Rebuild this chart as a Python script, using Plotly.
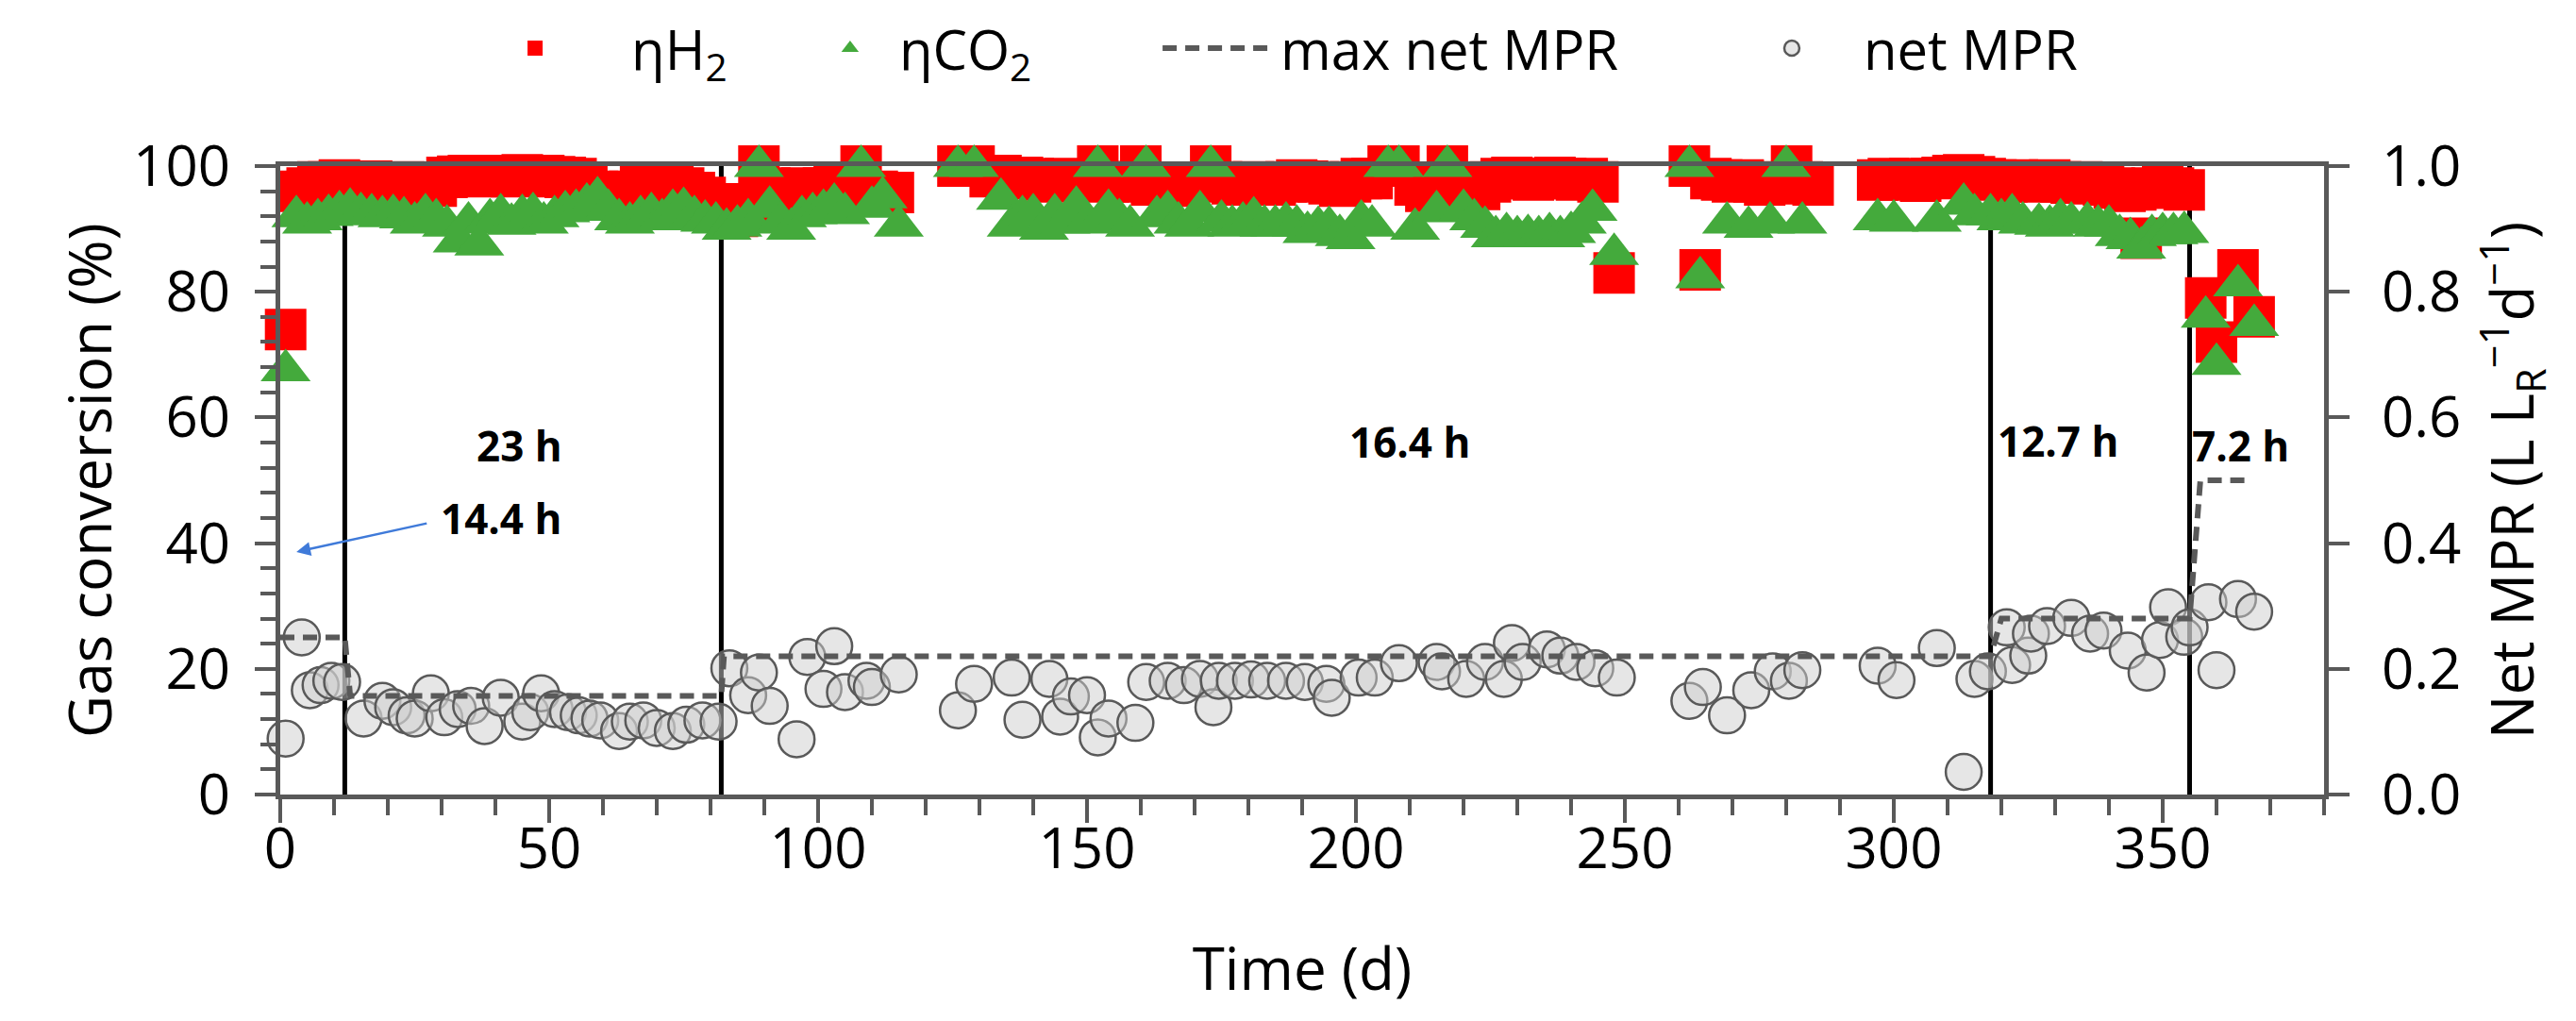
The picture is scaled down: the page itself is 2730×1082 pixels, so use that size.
import plotly.graph_objects as go

# ---------------- data ----------------
h2_days = [1, 3, 5, 7, 9, 11, 13, 15, 17, 19, 21, 23, 25, 27, 29,
           31, 33, 35, 37, 39, 41, 43, 45, 47, 49, 51, 53, 55,
           57, 59, 61, 63, 65, 67, 69, 71, 73, 75, 77, 79, 81, 83, 85, 87,
           89, 91, 93, 95, 97, 99, 101, 103, 105, 108, 111, 114, 126, 129,
           132, 134, 136, 138, 140, 142, 144, 146, 148, 152, 154, 156,
           160, 162, 164, 166, 168,
           173, 175, 177, 179, 181, 183, 185, 187, 189, 191, 193, 195, 197, 199, 201, 203,
           206, 208, 211, 213, 215,
           217, 219, 221, 223, 225, 227, 229, 231, 233, 235, 237, 239, 241, 243, 245,
           248, 262, 264, 266, 268, 270, 272, 274, 276, 278, 281, 283, 285,
           297, 299, 301, 303, 305, 307, 309, 311, 313, 315, 317, 319, 321, 323, 325,
           327, 329, 331, 333, 335, 337, 339, 341, 343, 345,
           346, 348, 350, 352, 354, 358, 360, 364, 367]
h2_vals = [74, 96, 96.5, 97.5, 97.5, 97.8, 97.5, 97.3, 97.6, 97.4, 97.2, 97.5, 97.3, 97.0, 96.8,
           98.2, 98.4, 98.5, 98.3, 98.4, 98.5, 98.3, 98.6, 98.4, 98.5, 98.3, 98.2, 98.0,
           97.0, 96.0, 95.5, 95.8, 96.0, 96.8, 97.0, 97.2, 96.8, 96.5, 95.8, 95.0, 94.0, 93.5, 92.0, 94.0,
           100, 96.5, 96.2, 96.0, 96.5, 96.2, 96.5, 97.0, 96.8, 100, 96.0, 95.8, 100, 100,
           98.3, 98.5, 98.0, 98.2, 98.0, 97.8, 97.5, 98.0, 97.8, 100, 97.5, 97.5,
           100, 97.0, 97.0, 97.2, 96.8,
           100, 97.5, 97.2, 97.0, 97.5, 97.3, 97.0, 97.5, 97.8, 97.6, 97.5, 97.2, 96.8, 97.5, 98.0, 98.0,
           100, 100, 97.0, 96.0, 96.5,
           100, 97.0, 96.5, 96.3, 97.5, 98.0, 98.2, 98.0, 97.8, 98.0, 98.2, 98.0, 97.8, 98.0, 97.5,
           83, 100, 83.5, 98.0, 97.8, 97.5, 97.8, 97.5, 97.0, 97.2, 100, 97.5, 97.0,
           97.8, 98.0, 97.8, 98.0, 97.6, 98.0, 98.2, 98.5, 98.6, 98.3, 98.0, 97.8, 97.5, 97.8, 97.6,
           97.5, 97.8, 97.5, 97.3, 97.5, 97.2, 97.0, 96.5, 96.0, 96.2,
           88.5, 96.5, 96.8, 96.5, 96.2, 79, 72, 83.5, 76]

co2_days = [1, 3, 5, 7, 9, 11, 13, 15, 17, 19, 21, 23, 25, 27, 29, 31, 33, 35, 37, 39,
            41, 43, 45, 47, 49, 51, 53, 55, 57, 59, 61, 63, 65, 67, 69, 71, 73, 75, 77, 79,
            81, 83, 85, 87,
            89, 91, 93, 95, 97, 99, 101, 103, 105, 108, 110, 112, 115, 126, 129,
            134, 136, 138, 140, 142, 144, 146, 148, 150, 152, 154, 156, 158,
            161, 163, 165, 167, 169, 171, 173, 175, 177, 179, 181, 183, 185, 187, 189, 191,
            193, 195, 197, 199, 201, 203,
            206, 208, 211, 215, 217,
            220, 222, 224, 226, 228, 230, 232, 234, 236, 238, 240, 242, 244,
            248, 262, 264, 269, 273, 277, 280, 283,
            297, 300, 308, 313, 315, 318, 320, 322, 324, 327, 329, 331, 333,
            336, 338, 340, 342, 344, 346, 348, 350, 352, 354, 358, 360, 364, 367]
co2_vals = [67.5, 92.0, 91.0, 91.5, 92.2, 92.8, 93.2, 92.5, 92.3, 92.0, 92.2, 91.8, 91.0, 92.3, 91.5,
            90.5, 88.0, 91.0, 87.5, 91.5,
            92.3, 90.8, 92.2, 92.5, 91.0, 92.0, 92.8, 93.0, 94.0, 95.0, 93.0, 91.5, 91.0, 92.0, 92.5,
            91.5, 93.0, 93.3, 92.0, 91.3,
            91.0, 90.0, 90.5, 91.5,
            100, 93.5, 91.0, 90.0, 92.0, 92.5, 93.0, 94.0, 92.5, 100, 93.5, 95.0, 90.5, 100, 100,
            94.8, 90.5, 92.0, 92.3, 90.0, 92.3, 91.0, 93.5, 91.0, 100, 93.0, 91.5, 90.5,
            100, 92.0, 92.8, 91.0, 90.5, 92.8, 100, 91.3, 90.5, 91.0, 91.8, 90.5, 90.5, 91.0, 90.5, 89.5,
            90.3, 90.3, 89.0, 88.5, 91.3, 90.5,
            100, 100, 90.0, 92.8, 100,
            93.0, 91.5, 90.3, 88.8, 89.3, 88.8, 89.0, 88.8, 89.3, 88.8, 89.5, 91.0, 93.0,
            86.0, 100, 82.3, 91.0, 90.3, 91.0, 100, 91.0,
            91.5, 91.3, 91.3, 94.0, 92.3, 92.3, 91.5, 92.3, 91.0, 90.8, 90.5, 91.5, 91.0,
            91.0, 90.5, 90.5, 89.0, 88.5, 87.0, 89.0, 89.3, 89.3, 89.5, 76, 68.5, 81, 74.7]

mpr_days = [1, 4, 5.5, 7.5, 9.5, 11.5, 15.5, 19, 21, 23.5, 25, 28, 30.5, 33, 35.5, 38,
            41, 45, 46.5, 48.5, 51, 53.5, 55.5, 57.5, 59.5, 63, 65, 67.5, 70, 73, 75.5, 78.5,
            81.5, 83.5, 87, 89, 91, 96, 98, 101, 103, 105, 109, 110, 115, 126, 129, 136, 138,
            143, 145, 147, 150, 152, 154, 159, 161, 165, 168, 171, 173.5, 174.5, 177.5, 180.5,
            183.5, 187, 190.5, 194.5, 195.5, 200.5, 203.5, 208, 215, 216, 220.5, 224, 227.5,
            229, 231, 235.5, 238, 241, 244.5, 248.5, 262, 264.5, 269, 273.5, 277.5, 280.5, 283,
            297, 300.5, 308, 313, 315, 317.5, 321, 322, 325, 325.5, 328.5, 333, 336.5, 339,
            343.5, 347, 349.5, 351, 354, 355, 358.5, 360, 364, 367]
mpr_vals = [0.089, 0.25, 0.166, 0.174, 0.181, 0.179, 0.121, 0.149, 0.139, 0.126, 0.121, 0.161,
            0.123, 0.136, 0.141, 0.109, 0.154, 0.116, 0.131, 0.161, 0.136, 0.131, 0.126, 0.121,
            0.118, 0.101, 0.116, 0.118, 0.106, 0.101, 0.111, 0.118, 0.116, 0.201, 0.158, 0.194,
            0.141, 0.088, 0.219, 0.168, 0.236, 0.163, 0.181, 0.171, 0.191, 0.134, 0.176, 0.186,
            0.119, 0.184, 0.124, 0.156, 0.158, 0.091, 0.121, 0.114, 0.179, 0.181, 0.174, 0.184,
            0.139, 0.181, 0.181, 0.183, 0.181, 0.181, 0.179, 0.176, 0.154, 0.186, 0.186, 0.209,
            0.211, 0.196, 0.184, 0.211, 0.184, 0.241, 0.211, 0.231, 0.221, 0.211, 0.201, 0.186,
            0.149, 0.171, 0.126, 0.166, 0.196, 0.181, 0.198, 0.205, 0.182, 0.233, 0.036, 0.184,
            0.196, 0.266, 0.206, 0.221, 0.256, 0.268, 0.281, 0.256, 0.261, 0.229, 0.194, 0.246,
            0.298, 0.251, 0.266, 0.306, 0.198, 0.311, 0.291]

max_mpr_days = [0, 12, 13, 82, 82.5, 318, 320, 355, 357, 366.5]
max_mpr_vals = [0.25, 0.25, 0.157, 0.157, 0.22, 0.22, 0.28, 0.28, 0.5, 0.5]

hrt_change_days = [12, 82, 318, 355]
hrt_labels = ["23 h", "14.4 h", "16.4 h", "12.7 h", "7.2 h"]
hrt_label_days = [44.5, 41, 210, 330.5, 364.5]
hrt_label_vals = [55.5, 44.0, 56.1, 56.3, 55.6]

arrow_head = (3.0, 38.6)
arrow_tail = (27.5, 43.2)

assert len(h2_days) == len(h2_vals)
assert len(co2_days) == len(co2_vals)
assert len(mpr_days) == len(mpr_vals)

# ---------------- styling ----------------
FONT = "Open Sans"
AXIS_GREY = "#595959"
TICK_FONT = dict(family=FONT, size=60, color="black")
TITLE_FONT = dict(family=FONT, size=62, color="black")
LEG_FONT = dict(family=FONT, size=58, color="black")

fig = go.Figure()

fig.add_trace(go.Scatter(
    x=h2_days, y=h2_vals, mode="markers", name="ηH<sub>2</sub>",
    marker=dict(symbol="square", size=44, color="#ff0000", line=dict(width=0)),
    cliponaxis=False, legend="legend"))

fig.add_trace(go.Scatter(
    x=co2_days, y=co2_vals, mode="markers", name="ηCO<sub>2</sub>",
    marker=dict(symbol="triangle-up", size=46, color="#44aa3c", line=dict(width=0)),
    cliponaxis=False, legend="legend2"))

fig.add_trace(go.Scatter(
    x=mpr_days, y=mpr_vals, mode="markers", name="net MPR", yaxis="y2",
    marker=dict(symbol="circle", size=38, color="rgba(205,205,205,0.5)",
                line=dict(color=AXIS_GREY, width=2.5)),
    cliponaxis=False, legend="legend4"))

fig.add_trace(go.Scatter(
    x=max_mpr_days, y=max_mpr_vals, mode="lines", name="max net MPR", yaxis="y2",
    line=dict(color=AXIS_GREY, width=6, dash="15px,9px"),
    cliponaxis=False, legend="legend3"))

for d in hrt_change_days:
    fig.add_shape(type="line", xref="x", yref="y", x0=d, x1=d, y0=0, y1=100,
                  line=dict(color="black", width=5), layer="below")

for txt, xd, yd in zip(hrt_labels, hrt_label_days, hrt_label_vals):
    fig.add_annotation(x=xd, y=yd, xref="x", yref="y", text=txt, showarrow=False,
                       font=dict(family=FONT, size=44, color="black", weight="bold"))

fig.add_annotation(x=arrow_head[0], y=arrow_head[1], ax=arrow_tail[0], ay=arrow_tail[1],
                   xref="x", yref="y", axref="x", ayref="y", text="", showarrow=True,
                   arrowhead=2, arrowsize=1.2, arrowwidth=2.5, arrowcolor="#3f7ad9")

axis_common = dict(showline=True, linecolor=AXIS_GREY, linewidth=5, ticks="outside",
                   tickcolor=AXIS_GREY, tickwidth=4, showgrid=False, zeroline=False,
                   tickfont=TICK_FONT)

legend_common = dict(yref="container", yanchor="middle", xanchor="left", orientation="h",
                     font=LEG_FONT, bgcolor="rgba(0,0,0,0)")
LEG_Y = 0.96

fig.update_layout(
    width=2730, height=1082,
    margin=dict(l=289, r=275, t=168, b=248, autoexpand=False),
    paper_bgcolor="white", plot_bgcolor="white",
    xaxis=dict(range=[0, 380], tick0=0, dtick=50, ticklen=25, mirror=True,
               ticklabelstandoff=-24,
               minor=dict(dtick=10, ticks="outside", ticklen=17, tickwidth=4, tickcolor=AXIS_GREY),
               title=dict(text="Time (d)", font=TITLE_FONT, standoff=70),
               **axis_common),
    yaxis=dict(range=[0, 100], tick0=0, dtick=20, ticklen=22, ticklabelstandoff=14,
               minor=dict(dtick=4, ticks="outside", ticklen=16, tickwidth=4, tickcolor=AXIS_GREY),
               title=dict(text="Gas conversion (%)", font=TITLE_FONT, standoff=4),
               **axis_common),
    yaxis2=dict(range=[0, 1], tick0=0, dtick=0.2, tickformat=".1f", ticklen=22,
                ticklabelstandoff=22, overlaying="y", side="right",
                title=dict(text="Net MPR (L L<sub>R</sub><sup>−1</sup>d<sup>−1</sup>)",
                           font=TITLE_FONT, standoff=36),
                **axis_common),
    legend=dict(x=0.0776, y=LEG_Y, itemwidth=194, **legend_common),
    legend2=dict(x=0.2548, y=LEG_Y, itemwidth=94, **legend_common),
    legend3=dict(x=0.4294, y=LEG_Y, itemwidth=120, **legend_common),
    legend4=dict(x=0.7045, y=LEG_Y, itemwidth=142, **legend_common),
    showlegend=True,
)

fig.write_html("out.html")
